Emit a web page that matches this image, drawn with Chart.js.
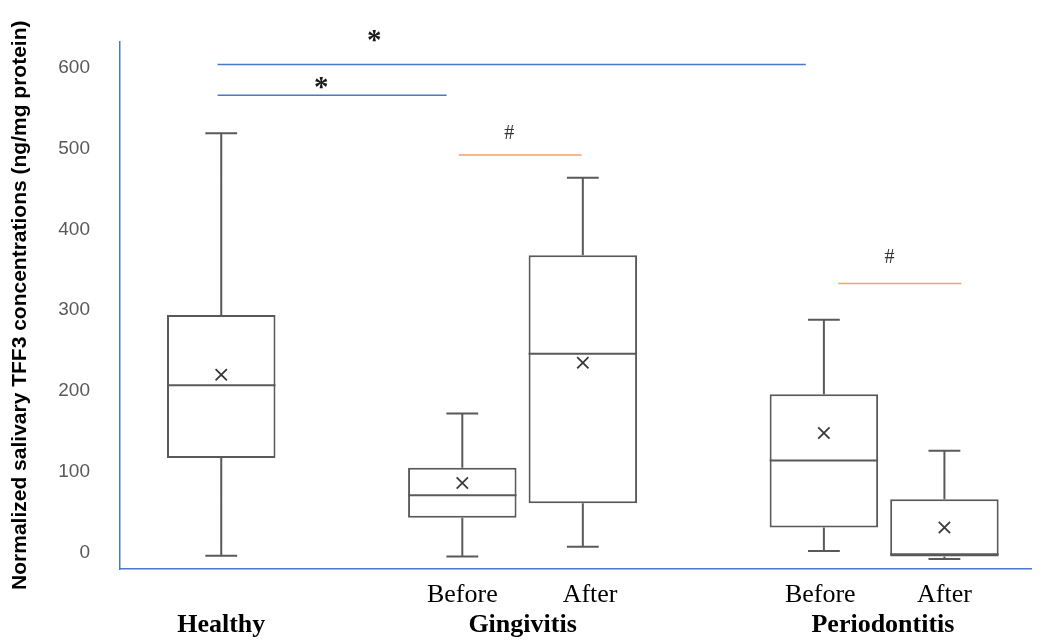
<!DOCTYPE html>
<html><head><meta charset="utf-8">
<script src="https://cdn.jsdelivr.net/npm/chart.js@4"></script>
<style>html,body{margin:0;padding:0;background:#fff}</style>
</head><body>
<canvas id="c" width="1041" height="640"></canvas>
<script>
// ---- data ----
const groupPos   = [0, 2, 3, 5, 6];
const boxMin     = [-4, -5, 7, 2, -8];
const boxQ1      = [117, 43, 61, 31, -5];
const boxMedian  = [207, 71, 246, 114, -2];
const boxMean    = [220, 86, 235, 148, 31];
const boxQ3      = [294, 105, 368, 196, 66];
const boxMax     = [519, 172, 464, 288, 126];

const xTickPos    = [0, 2, 2.5, 3.06, 4.97, 5.49, 6];
const xTickLabels = [['', 'Healthy'], 'Before', ['', 'Gingivitis'], 'After', 'Before', ['', 'Periodontitis'], 'After'];
const xTickBold   = [true, false, true, false, false, true, false];
const yTickValues = [0, 100, 200, 300, 400, 500, 600];

const sigLineY  = [604, 566, 492, 333];
const sigLineX1 = [-0.03, -0.03, 1.97, 5.12];
const sigLineX2 = [4.85, 1.87, 2.99, 6.14];
const sigLineColor = ['#4a78c8', '#4a78c8', '#f4a06a', '#f4a06a'];
const sigMark  = ['*', '*', '#', '#'];
const sigMarkX = [1.27, 0.83, 2.39, 5.545];
const sigMarkY = [641, 583, 518, 365];

// ---- style constants ----
const BOX_HALF = 0.45, CAP_HALF = 0.132;
const BOX_COLOR = '#595959';

function segments(list) {
  const out = [];
  list.forEach(([x1, y1, x2, y2]) => {
    out.push({x: x1, y: y1}, {x: x2, y: y2}, {x: x2, y: null});
  });
  return out;
}

const whiskerSegs = [];
const medianSegs = [];
groupPos.forEach((p, i) => {
  whiskerSegs.push([p, boxQ3[i], p, boxMax[i]]);
  whiskerSegs.push([p - CAP_HALF, boxMax[i], p + CAP_HALF, boxMax[i]]);
  whiskerSegs.push([p, boxMin[i], p, boxQ1[i]]);
  whiskerSegs.push([p - CAP_HALF, boxMin[i], p + CAP_HALF, boxMin[i]]);
  medianSegs.push([p - BOX_HALF, boxMedian[i], p + BOX_HALF, boxMedian[i]]);
});

const datasets = [
  {
    type: 'line', order: 0,
    data: groupPos.map((p, i) => ({x: p, y: boxMean[i]})),
    showLine: false, pointStyle: 'crossRot', pointRadius: 8,
    pointBorderColor: '#3a3a3a', pointBorderWidth: 1.8, pointBackgroundColor: 'transparent'
  },
  {
    type: 'line', order: 0, data: segments(medianSegs), spanGaps: false,
    borderColor: BOX_COLOR, borderWidth: 2, pointRadius: 0
  },
  {
    type: 'line', order: 0, data: segments(whiskerSegs), spanGaps: false,
    borderColor: BOX_COLOR, borderWidth: 2, pointRadius: 0, clip: false
  },
  ...sigLineY.map((yv, i) => ({
    type: 'line', order: 0,
    data: [{x: sigLineX1[i], y: yv}, {x: sigLineX2[i], y: yv}],
    borderColor: sigLineColor[i], borderWidth: 1.5, pointRadius: 0
  })),
  {
    type: 'bar', order: 1,
    data: groupPos.map((p, i) => ({x: p, y: [boxQ1[i], boxQ3[i]]})),
    backgroundColor: '#ffffff', borderColor: BOX_COLOR, borderWidth: 2,
    borderSkipped: false, categoryPercentage: 1.0,
    // bar ruler uses the smallest tick gap (0.5 unit); 1.8 x 0.5 = 0.9 unit wide boxes
    barPercentage: 1.8
  }
];

const sigPlugin = {
  id: 'sigMarks',
  afterDatasetsDraw(chart) {
    const {ctx, scales: {x, y}} = chart;
    ctx.save();
    ctx.textAlign = 'center';
    ctx.textBaseline = 'middle';
    sigMark.forEach((m, i) => {
      const isStar = m === '*';
      ctx.font = isStar ? 'bold 29px "Liberation Serif"' : '20px "Liberation Serif"';
      ctx.fillStyle = isStar ? '#1a1a1a' : '#333333';
      const dy = isStar ? 7 : 0;
      ctx.fillText(m, x.getPixelForValue(sigMarkX[i]), y.getPixelForValue(sigMarkY[i]) + dy);
    });
    ctx.restore();
  }
};

new Chart(document.getElementById('c'), {
  type: 'bar',
  data: {datasets},
  plugins: [sigPlugin],
  options: {
    responsive: false,
    animation: false,
    layout: {padding: {top: 40, right: 6, left: 0, bottom: 0}},
    plugins: {legend: {display: false}, tooltip: {enabled: false}},
    scales: {
      x: {
        type: 'linear', min: -0.84, max: 6.72, offset: false,
        grid: {display: false, drawTicks: false},
        border: {display: true, color: '#4a78c8', width: 1.5},
        afterBuildTicks: s => { s.ticks = xTickPos.map(v => ({value: v})); },
        afterFit: s => { s.height = 71; },
        ticks: {
          autoSkip: false, maxRotation: 0, minRotation: 0, padding: 11,
          color: '#000000',
          font: ctx => ({family: '"Liberation Serif", "Times New Roman", serif', size: 26,
                         lineHeight: 1.15, weight: xTickBold[ctx.index] ? 'bold' : 'normal'}),
          callback: (v, i) => xTickLabels[i]
        }
      },
      y: {
        type: 'linear', min: -20.4, max: 632.7,
        grid: {display: false, drawTicks: false},
        border: {display: true, color: '#4a78c8', width: 1.5},
        afterBuildTicks: s => { s.ticks = yTickValues.map(v => ({value: v})); },
        afterFit: s => { s.width = 120; },
        ticks: {
          padding: 30, color: '#595959',
          font: {family: '"Liberation Sans", Arial, sans-serif', size: 19}
        },
        title: {
          display: true,
          text: 'Normalized salivary TFF3 concentrations (ng/mg protein)',
          color: '#000000',
          font: {family: '"Liberation Sans", Arial, sans-serif', size: 21, weight: 'bold'},
          padding: {top: 8, bottom: 0}
        }
      }
    }
  }
});
</script>
</body></html>
